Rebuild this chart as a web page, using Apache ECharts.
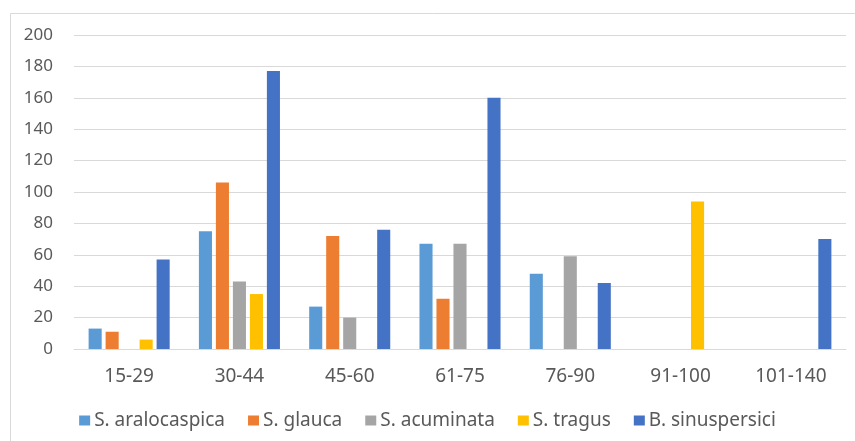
<!DOCTYPE html>
<html><head><meta charset="utf-8">
<script src="https://cdn.jsdelivr.net/npm/echarts@6/dist/echarts.min.js"></script>
<style>html,body{margin:0;padding:0;background:#fff}#c{width:855px;height:441px}</style>
</head><body><div id="c"></div>
<script>
const categories = ["15-29","30-44","45-60","61-75","76-90","91-100","101-140"];
const seriesNames = ["S. aralocaspica","S. glauca","S. acuminata","S. tragus","B. sinuspersici"];
const aralocaspica = [13, 75, 27, 67, 48, 0, 0];
const glauca = [11, 106, 72, 32, 0, 0, 0];
const acuminata = [0, 43, 20, 67, 59, 0, 0];
const tragus = [6, 35, 0, 0, 0, 94, 0];
const sinuspersici = [57, 177, 76, 160, 42, 0, 70];
const colors = ["#5B9BD5","#ED7D31","#A5A5A5","#FFC000","#4472C4"];
const values = [aralocaspica, glauca, acuminata, tragus, sinuspersici];
const font = "'Noto Sans',sans-serif";
const chart = echarts.init(document.getElementById('c'));
chart.setOption({
  animation:false,
  textStyle:{fontFamily:font},
  graphic:[{type:'rect',shape:{x:10.5,y:13.5,width:900,height:600},style:{fill:'none',stroke:'#d9d9d9',lineWidth:1},silent:true}],
  grid:{left:74,right:9,top:35,bottom:92},
  legend:{top:406,left:'center',itemWidth:11,itemHeight:10,itemGap:23,icon:'rect',
    textStyle:{color:'#595959',fontSize:19,fontFamily:font,padding:[0,0,0,-1]},data:seriesNames},
  xAxis:{type:'category',data:categories,
    axisLine:{lineStyle:{color:'#d9d9d9'}},axisTick:{show:false},
    axisLabel:{color:'#595959',fontSize:19,margin:18,fontFamily:font}},
  yAxis:{type:'value',min:0,max:200,interval:20,
    axisLine:{show:false},axisTick:{show:false},
    splitLine:{lineStyle:{color:'#d9d9d9'}},
    axisLabel:{color:'#595959',fontSize:17,margin:21,fontFamily:font}},
  series: seriesNames.map((n,i)=>({name:n,type:'bar',data:values[i].map(v=>v===0?null:v),
    itemStyle:{color:colors[i]},barGap:'30%',barCategoryGap:'26.5%'}))
});
</script></body></html>
